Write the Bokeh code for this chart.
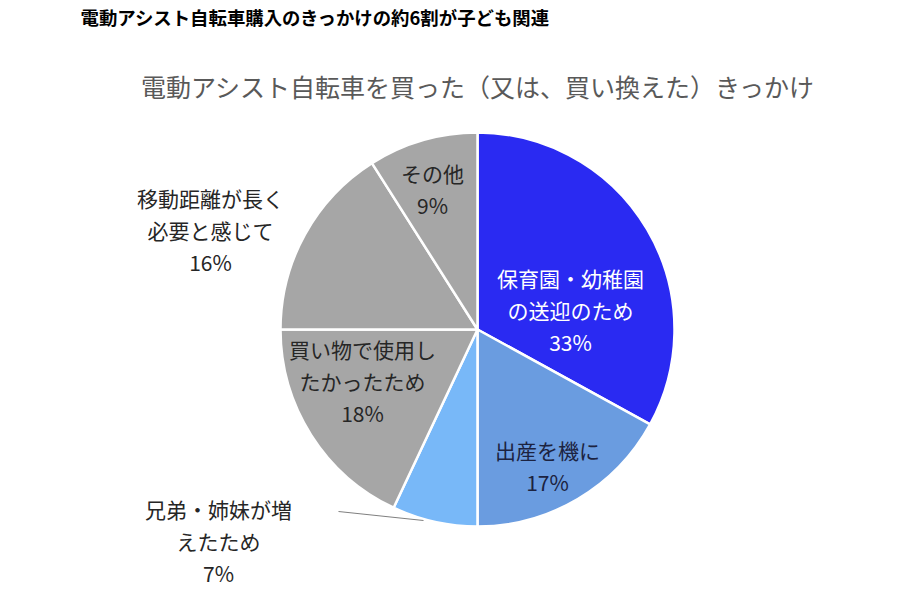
import math
from bokeh.plotting import figure, ColumnDataSource
from bokeh.models import Range1d
from bokeh.core.properties import value
from bokeh.embed import file_html
from bokeh.resources import INLINE

# data
categories = ["保育園・幼稚園\nの送迎のため", "出産を機に", "兄弟・姉妹が増\nえたため",
              "買い物で使用し\nたかったため", "移動距離が長く\n必要と感じて", "その他"]
shares = [33, 17, 7, 18, 16, 9]
colors = ["#2A2AF2", "#6A9CE0", "#78B8F8", "#A6A6A6", "#A6A6A6", "#A6A6A6"]
label_colors = ["#FFFFFF", "#1C2340", "#262626", "#262626", "#262626", "#262626"]

header = "電動アシスト自転車購入のきっかけの約6割が子ども関連"
title = "電動アシスト自転車を買った（又は、買い換えた）きっかけ"

# layout (pixel coords of the page, y measured from top)
W, H = 892, 600
cx, cy, r = 477, 329, 197
label_pos = [(570, 309), (547, 465), (218, 540), (362, 380), (210, 229), (432, 188)]
line_gap = 32
FONT = value("'Noto Sans CJK JP', 'Noto Sans', sans-serif")


def py(y):
    return 600 - y


p = figure(width=W, height=H, output_backend="svg", toolbar_location=None,
           x_range=Range1d(0, W), y_range=Range1d(600 - H, 600),
           min_border=0)
p.axis.visible = False
p.grid.visible = False
p.outline_line_color = None

total = float(sum(shares))
starts, ends = [], []
cum = 0.0
for s in shares:
    starts.append(math.pi / 2 - 2 * math.pi * cum / total)
    cum += s
    ends.append(math.pi / 2 - 2 * math.pi * cum / total)

src = ColumnDataSource(dict(start=starts, end=ends, color=colors))
p.wedge(x=cx, y=py(cy), radius=r, start_angle="start", end_angle="end",
        direction="clock", fill_color="color", line_color="white", line_width=2.5,
        source=src)

# leader line for the small slice
p.line(x=[338, 423], y=[py(511), py(520)], line_color="#7F7F7F", line_width=1)

# slice labels, one text per line
lx, ly, lt, lc = [], [], [], []
for (x0, y0), cat, s, col in zip(label_pos, categories, shares, label_colors):
    lines = cat.split("\n") + ["%d%%" % s]
    top = y0 - line_gap * (len(lines) - 1) / 2.0
    for i, t in enumerate(lines):
        lx.append(x0)
        ly.append(py(top + i * line_gap))
        lt.append(t)
        lc.append(col)

lab = ColumnDataSource(dict(x=lx, y=ly, text=lt, color=lc))
p.text(x="x", y="y", text="text", source=lab, text_color="color",
       text_font=FONT, text_font_size="21px", text_align="center",
       text_baseline="middle")

p.text(x=[478], y=[py(85)], text=[title], text_font=FONT, text_font_size="25px",
       text_color="#595959", text_align="center", text_baseline="middle")
p.text(x=[80], y=[py(16)], text=[header], text_font=FONT, text_font_size="18.4px",
       text_font_style="bold", text_color="#000000", text_align="left",
       text_baseline="middle")

open("out.html", "w").write(file_html(p, INLINE))
